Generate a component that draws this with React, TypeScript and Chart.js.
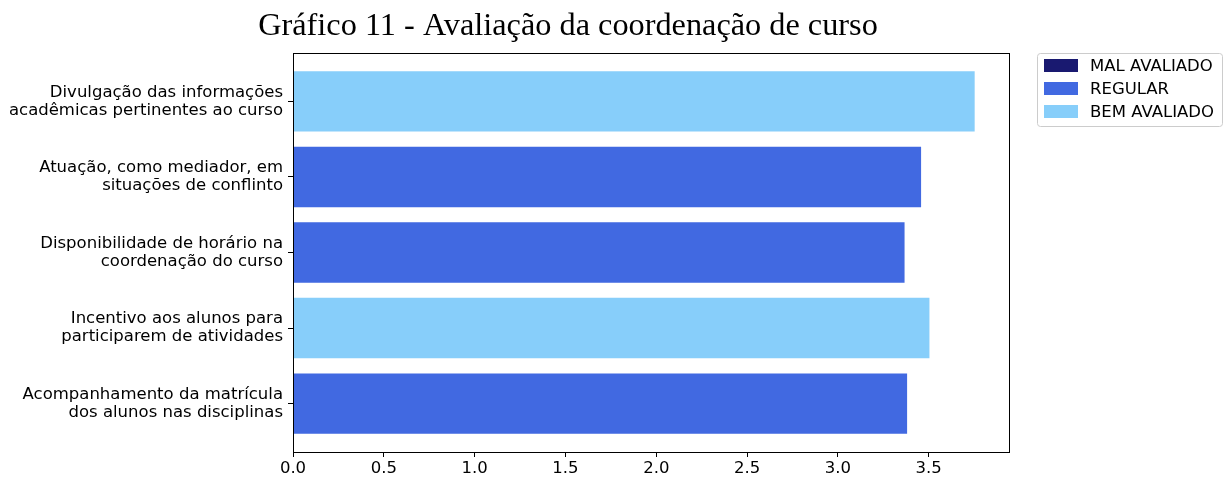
import React, { useEffect, useRef } from "react";
import { Chart, registerables } from "chart.js";

Chart.register(...registerables);

const TITLE = "Gráfico 11 - Avaliação da coordenação de curso";

// top to bottom
const categories: string[][] = [
  ["Divulgação das informações", "acadêmicas pertinentes ao curso"],
  ["Atuação, como mediador, em", "situações de conflinto"],
  ["Disponibilidade de horário na", "coordenação do curso"],
  ["Incentivo aos alunos para", "participarem de atividades"],
  ["Acompanhamento da matrícula", "dos alunos nas disciplinas"],
];
const values: number[] = [3.753, 3.458, 3.367, 3.504, 3.381];
const ratings: string[] = ["BEM AVALIADO", "REGULAR", "REGULAR", "BEM AVALIADO", "REGULAR"];

const legendLabels: string[] = ["MAL AVALIADO", "REGULAR", "BEM AVALIADO"];
const legendColors: string[] = ["#191970", "#4169E1", "#87CEFA"];

const xTicks: number[] = [0, 0.5, 1, 1.5, 2, 2.5, 3, 3.5];
const X_MAX = 3.942;

const FONT = "'DejaVu Sans', sans-serif";
const FS = 16.5;

export default function App() {
  const ref = useRef<HTMLCanvasElement | null>(null);

  useEffect(() => {
    if (!ref.current) return;

    const datasets = legendLabels.map((lab, k) => ({
      label: lab,
      data: values
        .map((v, i) => ({ x: v, y: i, r: ratings[i] }))
        .filter((d) => d.r === lab)
        .map((d) => ({ x: d.x, y: d.y })),
      backgroundColor: legendColors[k],
      borderWidth: 0,
      grouped: false,
      barPercentage: 0.8,
      categoryPercentage: 1,
    }));

    const framePlugin = {
      id: "frameAndLegend",
      afterDraw(chart: any) {
        const ctx = chart.ctx as CanvasRenderingContext2D;
        const a = chart.chartArea;
        ctx.save();
        // frame
        ctx.strokeStyle = "#000";
        ctx.lineWidth = 1;
        ctx.strokeRect(Math.round(a.left) + 0.5, Math.round(a.top) + 0.5, Math.round(a.right - a.left), Math.round(a.bottom - a.top));
        // title
        ctx.fillStyle = "#000";
        ctx.font = "32.3px 'Liberation Serif', 'Times New Roman', serif";
        ctx.textAlign = "center";
        ctx.textBaseline = "alphabetic";
        ctx.fillText(TITLE, 568, 35);
        // legend
        const lx = 1037, ly = 53, lw = 185, lh = 73;
        ctx.strokeStyle = "#cccccc";
        ctx.fillStyle = "rgba(255,255,255,0.8)";
        ctx.beginPath();
        const r = 3;
        ctx.moveTo(lx + 0.5 + r, ly + 0.5);
        ctx.arcTo(lx + 0.5 + lw, ly + 0.5, lx + 0.5 + lw, ly + 0.5 + lh, r);
        ctx.arcTo(lx + 0.5 + lw, ly + 0.5 + lh, lx + 0.5, ly + 0.5 + lh, r);
        ctx.arcTo(lx + 0.5, ly + 0.5 + lh, lx + 0.5, ly + 0.5, r);
        ctx.arcTo(lx + 0.5, ly + 0.5, lx + 0.5 + lw, ly + 0.5, r);
        ctx.closePath();
        ctx.fill();
        ctx.stroke();
        ctx.font = `${FS}px ${FONT}`;
        ctx.textAlign = "left";
        ctx.textBaseline = "middle";
        legendLabels.forEach((lab, k) => {
          const cy = 65.5 + k * 23;
          ctx.fillStyle = legendColors[k];
          ctx.fillRect(1044, cy - 6.5, 34, 13);
          ctx.fillStyle = "#000";
          ctx.fillText(lab, 1090, cy + 1);
        });
        ctx.restore();
      },
    };

    const chart = new Chart(ref.current, {
      type: "bar",
      data: { datasets: datasets as any },
      options: {
        indexAxis: "y",
        responsive: false,
        animation: false,
        maintainAspectRatio: false,
        layout: { padding: { top: 53, right: 218, bottom: 0, left: 0 } },
        plugins: {
          legend: { display: false },
          title: { display: false },
          tooltip: { enabled: false },
        },
        scales: {
          x: {
            type: "linear",
            min: 0,
            max: X_MAX,
            offset: false,
            afterBuildTicks: (s: any) => {
              s.ticks = xTicks.map((v) => ({ value: v }));
            },
            afterFit: (s: any) => {
              s.height = 27;
            },
            border: { display: false },
            grid: {
              display: true,
              offset: false,
              drawOnChartArea: false,
              drawTicks: true,
              tickLength: 5,
              color: "#000",
            },
            ticks: {
              color: "#000",
              font: { family: FONT, size: FS },
              padding: 2,
              maxRotation: 0,
              autoSkip: false,
              callback: (v: any) => Number(v).toFixed(1),
            },
          },
          y: {
            type: "linear",
            reverse: true,
            min: -0.64,
            max: 4.64,
            offset: false,
            afterBuildTicks: (s: any) => {
              s.ticks = categories.map((_, i) => ({ value: i }));
            },
            afterFit: (s: any) => {
              s.width = 293;
            },
            border: { display: false },
            grid: {
              display: true,
              offset: false,
              drawOnChartArea: false,
              drawTicks: true,
              tickLength: 5,
              color: "#000",
            },
            ticks: {
              color: "#000",
              font: { family: FONT, size: FS, lineHeight: 1.1 },
              padding: 5,
              autoSkip: false,
              callback: (v: any) => categories[Math.round(Number(v))] ?? "",
            },
          },
        },
      },
      plugins: [framePlugin],
    });

    return () => chart.destroy();
  }, []);

  return (
    <div style={{ position: "absolute", left: 0, top: 0, width: 1227, height: 479, background: "#fff" }}>
      <canvas ref={ref} width={1227} height={479} style={{ display: "block" }} />
    </div>
  );
}
